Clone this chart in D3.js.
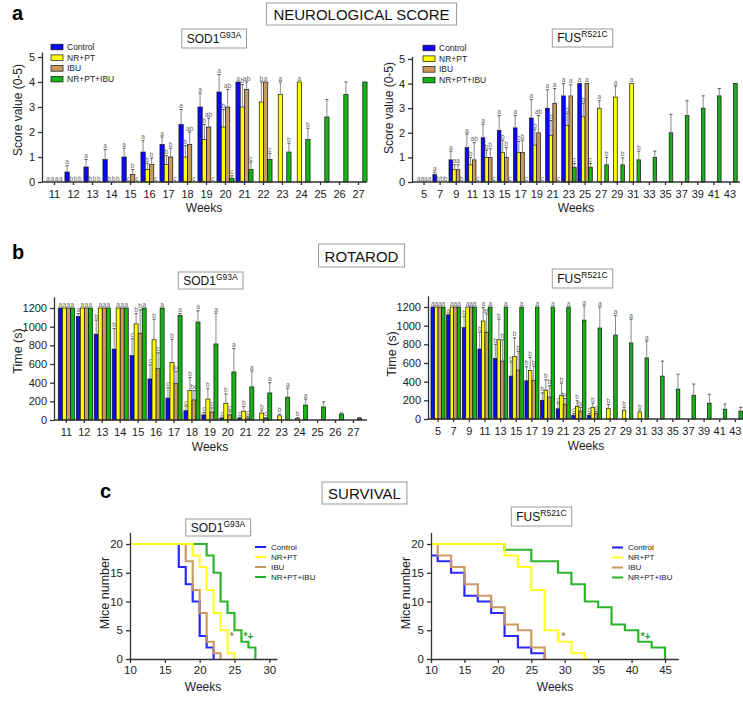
<!DOCTYPE html>
<html><head><meta charset="utf-8">
<script src="https://cdn.jsdelivr.net/npm/d3@7"></script>
<style>
body{margin:0;background:#fff;}
svg text{font-family:"Liberation Sans",Arial,sans-serif;}
</style></head><body>
<svg id="c" width="743" height="701"></svg>
<script>
// ---------- DATA ----------
const groups = ["Control","NR+PT","IBU","NR+PT+IBU"];

// A: Neurological score, SOD1
const sodNeuroWeeks = [11,12,13,14,15,16,17,18,19,20,21,22,23,24,25,26,27];
const sodNeuroControl = [0,0.4,0.6,0.9,1.0,1.2,1.5,2.3,3.0,3.6,4.0,null,null,null,null,null,null];
const sodNeuroControlErr = [0,0.25,0.3,0.4,0.35,0.45,0.3,0.6,0.55,0.7,0,0,0,0,0,0,0];
const sodNeuroControlSig = ["a","a","a","a","a","a","a","a","a","a","a","","","","","",""];
const sodNeuroNrpt = [0,0,0,0,0,0.5,0.7,1.0,1.7,2.2,3.0,3.2,3.5,4.0,null,null,null];
const sodNeuroNrptErr = [0,0,0,0,0,0.25,0.35,0.45,0.6,0.7,0.9,0.8,0.5,0,0,0,0];
const sodNeuroNrptSig = ["a","b","b","b","c","b","b","b","b","b","b","b","a","a","","",""];
const sodNeuroIbu = [0,0,0,0,0.3,0.7,1.0,1.5,2.2,3.0,3.7,4.0,null,null,null,null,null];
const sodNeuroIbuErr = [0,0,0,0,0.2,0.25,0.35,0.5,0.35,0.7,0.3,0,0,0,0,0,0];
const sodNeuroIbuSig = ["a","b","b","b","b","b","b","ab","ab","ab","ab","a","","","","",""];
const sodNeuroCombo = [0,0,0,0,0,0,0,0,0,0.15,0.5,0.9,1.2,1.7,2.6,3.5,4.0];
const sodNeuroComboErr = [0,0,0,0,0,0,0,0,0,0.1,0.3,0.25,0.35,0.45,0.7,0.5,0];
const sodNeuroComboSig = ["a","b","b","b","c","c","c","c","c","c","c","c","b","b","","",""];

// A: Neurological score, FUS
const fusNeuroWeeks = [5,7,9,11,13,15,17,19,21,23,25,27,29,31,33,35,37,39,41,43];
const fusNeuroControl = [0,0.3,0.9,1.4,1.8,2.1,2.2,2.6,3.0,3.5,4.0,null,null,null,null,null,null,null,null,null];
const fusNeuroControlErr = [0,0.1,0.35,0.55,0.55,0.6,0.5,0.75,0.75,0.5,0,0,0,0,0,0,0,0,0,0];
const fusNeuroControlSig = ["a","a","a","a","a","a","a","a","a","a","a","","","","","","","","",""];
const fusNeuroNrpt = [0,0,0.5,0.7,1.0,1.2,1.2,1.5,1.9,2.3,2.65,3.0,3.45,4.0,null,null,null,null,null,null];
const fusNeuroNrptErr = [0,0,0.2,0.3,0.3,0.5,0.45,0.65,0.6,0.5,0.55,0.3,0.45,0,0,0,0,0,0,0];
const fusNeuroNrptSig = ["a","b","a","b","b","b","b","b","b","b","b","a","a","a","","","","","",""];
const fusNeuroIbu = [0,0,0.5,0.9,1.0,1.0,1.2,2.0,3.2,3.5,4.0,null,null,null,null,null,null,null,null,null];
const fusNeuroIbuErr = [0,0,0.2,0.7,0.35,0.4,0.5,0.7,0.6,0.45,0,0,0,0,0,0,0,0,0,0];
const fusNeuroIbuSig = ["a","b","a","ab","b","b","b","ab","a","a","a","","","","","","","","",""];
const fusNeuroCombo = [0,0,0,0,0,0,0,0,0,0.6,0.6,0.7,0.7,0.9,1.0,2.0,2.7,3.0,3.5,4.0];
const fusNeuroComboErr = [0,0,0,0,0,0,0,0,0,0.15,0.15,0.3,0.28,0.35,0.25,0.75,0.6,0.5,0.3,0];
const fusNeuroComboSig = ["a","b","b","c","c","c","c","c","c","c","c","b","b","b","","","","","",""];

// B: Rotarod, SOD1
const sodRotWeeks = [11,12,13,14,15,16,17,18,19,20,21,22,23,24,25,26,27];
const sodRotControl = [1200,1110,920,760,690,440,235,100,55,20,20,null,null,null,null,null,null];
const sodRotControlErr = [0,30,150,220,180,150,110,50,25,10,10,0,0,0,0,0,0];
const sodRotControlSig = ["a","a","b","b","c","c","c","c","c","c","c","","","","","",""];
const sodRotNrpt = [1200,1200,1200,1200,1030,860,615,315,225,180,95,75,45,15,null,null,null];
const sodRotNrptErr = [0,0,0,0,110,220,250,140,110,100,50,30,20,10,0,0,0];
const sodRotNrptSig = ["a","a","a","a","b","b","b","b","b","b","b","b","b","b","","",""];
const sodRotIbu = [1200,1200,1200,1200,930,550,390,215,85,55,20,15,null,null,null,null,null];
const sodRotIbuErr = [0,0,0,0,250,170,130,100,45,40,20,10,0,0,0,0,0];
const sodRotIbuSig = ["a","a","a","a","b","c","bc","bc","c","c","c","c","","","","",""];
const sodRotCombo = [1200,1200,1200,1200,1200,1200,1120,1050,815,515,355,290,245,160,140,65,20];
const sodRotComboErr = [0,0,0,0,0,0,20,120,330,250,170,110,95,65,55,10,5];
const sodRotComboSig = ["a","a","a","a","a","a","a","a","a","a","a","a","a","a","","",""];

// B: Rotarod, FUS
const fusRotWeeks = [5,7,9,11,13,15,17,19,21,23,25,27,29,31,33,35,37,39,41,43];
const fusRotControl = [1200,1115,980,750,650,460,410,200,110,40,40,null,null,null,null,null,null,null,null,null];
const fusRotControlErr = [0,10,120,180,150,150,150,80,60,20,20,0,0,0,0,0,0,0,0,0];
const fusRotControlSig = ["a","a","b","b","b","b","b","b","c","c","c","","","","","","","","",""];
const fusRotNrpt = [1200,1200,1200,1050,850,670,520,310,255,135,125,115,95,75,null,null,null,null,null,null];
const fusRotNrptErr = [0,0,0,145,220,200,140,110,130,60,45,40,30,20,0,0,0,0,0,0];
const fusRotNrptSig = ["a","a","a","a","b","b","b","b","b","b","b","b","b","b","","","","","",""];
const fusRotIbu = [1200,1200,1200,930,620,525,415,235,160,85,60,null,null,null,null,null,null,null,null,null];
const fusRotIbuErr = [0,0,0,195,230,200,150,120,60,40,20,0,0,0,0,0,0,0,0,0];
const fusRotIbuSig = ["a","a","a","ab","b","b","b","b","bc","bc","c","","","","","","","","",""];
const fusRotCombo = [1200,1200,1200,1200,1200,1200,1200,1200,1200,1060,975,900,815,655,460,320,255,170,105,85];
const fusRotComboErr = [0,0,0,0,0,0,0,0,0,150,225,210,255,180,160,160,120,95,55,40];
const fusRotComboSig = ["a","a","a","a","a","a","a","a","a","a","a","a","a","a","","","","","",""];

// C: Survival (step change weeks, mice number)
const sodSurvControlWeeks = [10,17,18,19,20,21,22];
const sodSurvControlN     = [20,16,13,10,4,2,0];
const sodSurvNrptWeeks = [10,19,20,21,22,23,24,25];
const sodSurvNrptN     = [20,18,16,12,8,5,1,0];
const sodSurvIbuWeeks = [10,18,19,20,21,22,23];
const sodSurvIbuN     = [20,17,12,8,3,1,0];
const sodSurvComboWeeks = [10,21,22,23,24,25,26,27,28];
const sodSurvComboN     = [20,18,15,10,8,5,3,2,0];

const fusSurvControlWeeks = [10,11,13,15,17,19,21,23,25,27];
const fusSurvControlN     = [18,17,15,11,10,8,4,2,1,0];
const fusSurvNrptWeeks = [10,21,23,25,27,29,31,33];
const fusSurvNrptN     = [20,18,16,12,5,3,1,0];
const fusSurvIbuWeeks = [10,11,13,15,17,19,21,23,25,27];
const fusSurvIbuN     = [20,18,16,13,11,9,6,5,2,0];
const fusSurvComboWeeks = [10,21,25,29,31,33,35,37,39,41,43,45];
const fusSurvComboN     = [20,19,17,15,13,10,9,6,5,3,2,0];

const neuroTicks = [0,1,2,3,4,5];
const rotTicks = [0,200,400,600,800,1000,1200];
const survYTicks = [0,5,10,15,20];
const sodSurvXTicks = [10,15,20,25,30];
const fusSurvXTicks = [10,15,20,25,30,35,40,45];

// ---------- STYLE ----------
const barColors = ["#0a0af5","#ffff00","#c99a5e","#16b316"];
const lineColors = ["#1e1eff","#ffff1e","#c8965f","#22b022"];
const svg = d3.select("#c");

function styleAxis(g){
  g.selectAll("path,line").attr("stroke","#333").attr("stroke-width",1.3);
  g.selectAll("text").style("font-size","11px").style("fill","#222");
}

function boxTitle(cx, cy, h, main, sup, fs, supFs, padX){
  const g = svg.append("g");
  const t = g.append("text").attr("x",cx).attr("y",cy).attr("text-anchor","middle")
    .attr("dominant-baseline","central").style("font-size",fs+"px").style("fill","#111");
  t.append("tspan").text(main);
  if(sup) t.append("tspan").attr("dy",-fs*0.32).style("font-size",supFs+"px").text(sup);
  const bb = t.node().getBBox();
  g.insert("rect","text").attr("x",bb.x-padX).attr("y",cy-h/2).attr("width",bb.width+2*padX)
    .attr("height",h).attr("fill","#fff").attr("stroke","#9a9a9a").attr("stroke-width",1);
}

function panelLetter(x,y,s){
  svg.append("text").attr("x",x).attr("y",y).text(s).style("font-size","20px").style("font-weight","bold").style("fill","#000");
}

function yTitle(x,y,s,fs){
  svg.append("text").attr("transform",`translate(${x},${y}) rotate(-90)`).attr("text-anchor","middle")
    .style("font-size",fs+"px").style("fill","#222").text(s);
}
function xTitle(x,y,s){
  svg.append("text").attr("x",x).attr("y",y).attr("text-anchor","middle").style("font-size","12px").style("fill","#222").text(s);
}

function barPanel(o){
  const x = d3.scaleBand().domain(o.weeks).range([o.bx0,o.bx1]).paddingInner(0.1).paddingOuter(0.05);
  const xs = d3.scaleBand().domain(d3.range(o.series.length)).range([0,x.bandwidth()]);
  const y = d3.scaleLinear().domain([0,o.ymax]).range([o.y0,o.y1]);
  const g = svg.append("g");
  const bw = xs.bandwidth();
  o.series.forEach((s,si)=>{
    o.weeks.forEach((w,i)=>{
      const v = s.values[i]; if(v==null) return;
      const bx = x(w)+xs(si);
      const e = s.errors[i]||0;
      if(v>0) g.append("rect").attr("x",bx).attr("y",y(v)).attr("width",bw).attr("height",y(0)-y(v))
        .attr("fill",barColors[si]).attr("stroke","#111").attr("stroke-width",0.7);
      if(e>0){
        g.append("line").attr("x1",bx+bw/2).attr("x2",bx+bw/2).attr("y1",y(v)).attr("y2",y(v+e))
          .attr("stroke","#8a8a8a").attr("stroke-width",1);
        g.append("line").attr("x1",bx+bw/2-1.5).attr("x2",bx+bw/2+1.5).attr("y1",y(v+e)).attr("y2",y(v+e))
          .attr("stroke","#555").attr("stroke-width",1);
      }
      const lab = s.sig[i];
      if(lab) g.append("text").attr("x",bx+bw/2).attr("y",y(v+e)-1.5).attr("text-anchor","middle")
        .style("font-size","6.5px").style("fill","#6a6a6a").text(lab);
    });
  });
  // axes
  const ya = svg.append("g").attr("transform",`translate(${o.ax},0)`)
    .call(d3.axisLeft(y).tickValues(o.yticks).tickSize(4).tickSizeOuter(0).tickFormat(d3.format("d")));
  styleAxis(ya);
  const xa = svg.append("g").attr("transform",`translate(0,${o.y0})`)
    .call(d3.axisBottom(x).tickSize(3));
  xa.select(".domain").remove();
  styleAxis(xa);
  xa.selectAll("text").attr("dy","0.9em");
  svg.append("line").attr("x1",o.ax).attr("x2",o.axEnd).attr("y1",o.y0).attr("y2",o.y0)
    .attr("stroke","#333").attr("stroke-width",1.3);
  // legend
  if(o.legend){
    const L = o.legend;
    groups.forEach((name,i)=>{
      const yy = L.y + i*L.dy;
      svg.append("rect").attr("x",L.x).attr("y",yy-2.8).attr("width",12).attr("height",5.6)
        .attr("fill",barColors[i]).attr("stroke","#111").attr("stroke-width",0.7);
      svg.append("text").attr("x",L.x+16).attr("y",yy).attr("dominant-baseline","central")
        .style("font-size","8.5px").style("fill","#222").text(name);
    });
  }
}

function survPanel(o){
  const x = d3.scaleLinear().domain(o.xdom).range([o.ax,o.axEnd]);
  const y = d3.scaleLinear().domain([0,22]).range([o.y0,o.yTop]);
  const line = d3.line().x(d=>x(d[0])).y(d=>y(d[1])).curve(d3.curveStepAfter);
  const order = [0,2,3,1];
  order.forEach(i=>{
    const s = o.series[i];
    const pts = s.weeks.map((w,k)=>[w,s.n[k]]);
    svg.append("path").attr("d",line(pts)).attr("fill","none").attr("stroke",lineColors[i])
      .attr("stroke-width",2.2).attr("opacity",0.95);
  });
  const ya = svg.append("g").attr("transform",`translate(${o.ax},0)`)
    .call(d3.axisLeft(y).tickValues(survYTicks).tickSize(4).tickSizeOuter(0));
  styleAxis(ya);
  const xa = svg.append("g").attr("transform",`translate(0,${o.y0})`)
    .call(d3.axisBottom(x).tickValues(o.xticks).tickSize(4).tickSizeOuter(0));
  styleAxis(xa);
  xa.selectAll("text").style("font-size","11.5px");
  ya.selectAll("text").style("font-size","11.5px");
  // legend
  groups.forEach((name,i)=>{
    const yy = o.legend.y + i*o.legend.dy;
    svg.append("line").attr("x1",o.legend.x).attr("x2",o.legend.x+11).attr("y1",yy).attr("y2",yy)
      .attr("stroke",lineColors[i]).attr("stroke-width",2);
    svg.append("text").attr("x",o.legend.x+16).attr("y",yy).attr("dominant-baseline","central")
      .style("font-size","8px").style("fill","#222").text(name);
  });
  // significance marks
  o.marks.forEach(m=>{
    svg.append("text").attr("x",x(m.w)).attr("y",y(m.n)).attr("text-anchor","middle")
      .attr("dominant-baseline","central").style("font-size","10px").style("font-weight","bold")
      .style("fill",m.c).text(m.t);
  });
}

// ---------- PANEL A ----------
panelLetter(12,20,"a");
boxTitle(361.5,14,22,"NEUROLOGICAL SCORE",null,15,0,7);
boxTitle(214,38.5,19,"SOD1","G93A",12,8.5,5);
boxTitle(582.5,38,18,"FUS","R521C",12,8.5,5);

barPanel({weeks:sodNeuroWeeks, bx0:45, bx1:368, ax:42, axEnd:366, y0:182, y1:52, ymax:5.2, yticks:neuroTicks,
  series:[
    {values:sodNeuroControl, errors:sodNeuroControlErr, sig:sodNeuroControlSig},
    {values:sodNeuroNrpt, errors:sodNeuroNrptErr, sig:sodNeuroNrptSig},
    {values:sodNeuroIbu, errors:sodNeuroIbuErr, sig:sodNeuroIbuSig},
    {values:sodNeuroCombo, errors:sodNeuroComboErr, sig:sodNeuroComboSig}],
  legend:{x:51, y:47, dy:10.7}});
yTitle(22,110,"Score value (0-5)",12);
xTitle(204,212,"Weeks");

barPanel({weeks:fusNeuroWeeks, bx0:416, bx1:738, ax:412, axEnd:740, y0:182, y1:56.5, ymax:5.1, yticks:neuroTicks,
  series:[
    {values:fusNeuroControl, errors:fusNeuroControlErr, sig:fusNeuroControlSig},
    {values:fusNeuroNrpt, errors:fusNeuroNrptErr, sig:fusNeuroNrptSig},
    {values:fusNeuroIbu, errors:fusNeuroIbuErr, sig:fusNeuroIbuSig},
    {values:fusNeuroCombo, errors:fusNeuroComboErr, sig:fusNeuroComboSig}],
  legend:{x:423, y:48, dy:10.7}});
yTitle(393,108,"Score value (0-5)",12);
xTitle(576,212,"Weeks");

// ---------- PANEL B ----------
panelLetter(12,259,"b");
boxTitle(361.5,255.5,23,"ROTAROD",null,15,0,6);
boxTitle(210.5,280.5,17,"SOD1","G93A",12,8.5,5);
boxTitle(582.5,278.5,19,"FUS","R521C",12,8.5,5);

barPanel({weeks:sodRotWeeks, bx0:57.4, bx1:362.4, ax:54, axEnd:367, y0:420, y1:296.8, ymax:1320, yticks:rotTicks,
  series:[
    {values:sodRotControl, errors:sodRotControlErr, sig:sodRotControlSig},
    {values:sodRotNrpt, errors:sodRotNrptErr, sig:sodRotNrptSig},
    {values:sodRotIbu, errors:sodRotIbuErr, sig:sodRotIbuSig},
    {values:sodRotCombo, errors:sodRotComboErr, sig:sodRotComboSig}]});
yTitle(22,351,"Time (s)",12.5);
xTitle(210,451,"Weeks");

barPanel({weeks:fusRotWeeks, bx0:430.2, bx1:743.2, ax:428, axEnd:743, y0:419, y1:295.8, ymax:1320, yticks:rotTicks,
  series:[
    {values:fusRotControl, errors:fusRotControlErr, sig:fusRotControlSig},
    {values:fusRotNrpt, errors:fusRotNrptErr, sig:fusRotNrptSig},
    {values:fusRotIbu, errors:fusRotIbuErr, sig:fusRotIbuSig},
    {values:fusRotCombo, errors:fusRotComboErr, sig:fusRotComboSig}]});
yTitle(396,354,"Time (s)",12.5);
xTitle(586,450,"Weeks");

// ---------- PANEL C ----------
panelLetter(100,498,"c");
boxTitle(364.5,493,22,"SURVIVAL",null,15,0,6);
boxTitle(218,527.5,17,"SOD1","G93A",12,8.5,5);
boxTitle(541.5,516.5,19,"FUS","R521C",12,8.5,5);

survPanel({ax:130, axEnd:277, xdom:[10,31.1], y0:659, yTop:532.5, xticks:sodSurvXTicks,
  series:[
    {weeks:sodSurvControlWeeks, n:sodSurvControlN},
    {weeks:sodSurvNrptWeeks, n:sodSurvNrptN},
    {weeks:sodSurvIbuWeeks, n:sodSurvIbuN},
    {weeks:sodSurvComboWeeks, n:sodSurvComboN}],
  legend:{x:255, y:547, dy:10},
  marks:[{w:24.6,n:4,t:"*",c:"#9c9438"},{w:27,n:4,t:"*+",c:"#2a9e2a"}]});
yTitle(109,593,"Mice number",12.5);
xTitle(203,691,"Weeks");

survPanel({ax:431, axEnd:678.4, xdom:[10,47], y0:659, yTop:532.5, xticks:fusSurvXTicks,
  series:[
    {weeks:fusSurvControlWeeks, n:fusSurvControlN},
    {weeks:fusSurvNrptWeeks, n:fusSurvNrptN},
    {weeks:fusSurvIbuWeeks, n:fusSurvIbuN},
    {weeks:fusSurvComboWeeks, n:fusSurvComboN}],
  legend:{x:612, y:547.5, dy:10},
  marks:[{w:29.8,n:4,t:"*",c:"#9c9438"},{w:42.1,n:4,t:"*+",c:"#2a9e2a"}]});
yTitle(410,593,"Mice number",12.5);
xTitle(555,691,"Weeks");
</script>
</body></html>
